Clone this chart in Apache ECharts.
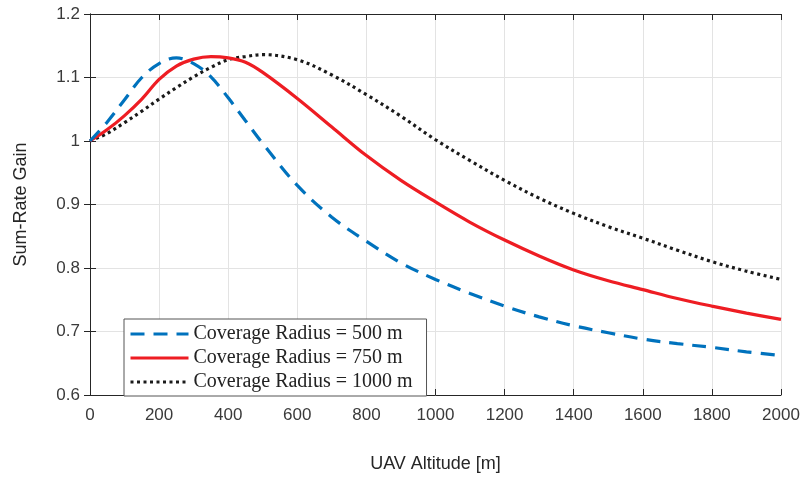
<!DOCTYPE html>
<html>
<head>
<meta charset="utf-8">
<script src="https://cdn.jsdelivr.net/npm/echarts@6/dist/echarts.min.js"></script>
<style>html,body{margin:0;padding:0;background:#fff}#c{width:804px;height:478px}</style>
</head>
<body>
<div id="c"></div>
<script>
const altitude = [0,50,100,150,200,250,300,350,400,450,500,600,700,800,900,1000,1100,1200,1300,1400,1500,1600,1700,1800,1900,2000];
const gain500  = [1.000,1.030,1.065,1.100,1.122,1.131,1.122,1.101,1.068,1.032,0.996,0.930,0.880,0.842,0.808,0.782,0.760,0.740,0.723,0.709,0.698,0.688,0.681,0.675,0.668,0.662];
const gain750  = [1.000,1.018,1.040,1.066,1.097,1.118,1.129,1.133,1.131,1.124,1.108,1.067,1.022,0.977,0.938,0.904,0.872,0.844,0.819,0.797,0.780,0.766,0.752,0.740,0.729,0.719];
const gain1000 = [1.000,1.012,1.029,1.047,1.066,1.084,1.101,1.116,1.128,1.133,1.136,1.128,1.104,1.073,1.039,1.002,0.969,0.938,0.910,0.886,0.865,0.847,0.828,0.810,0.795,0.782];
const seriesNames = ['Coverage Radius = 500 m','Coverage Radius = 750 m','Coverage Radius = 1000 m'];
const xName = 'UAV Altitude [m]';
const yName = 'Sum-Rate Gain';

const pairs = arr => altitude.map((x,i)=>[x,arr[i]]);
const axisColor = '#262626';
const labelFont = {color:'#3a3a3a', fontSize:17, fontFamily:'Liberation Sans, Arial, sans-serif'};

const chart = echarts.init(document.getElementById('c'), null, {renderer:'canvas'});
chart.setOption({
  animation:false,
  backgroundColor:'#fff',
  grid:{left:90, right:23, top:14, bottom:81, containLabel:false},
  legend:{
    orient:'vertical', left:124, top:319,
    backgroundColor:'#fff', borderColor:'#555', borderWidth:1,
    padding:[5,14,4,5], itemGap:4, itemWidth:58, itemHeight:20,
    itemStyle:{opacity:0},
    lineStyle:{width:3},
    textStyle:{fontFamily:'Liberation Serif, Times New Roman, serif', fontSize:20, color:'#222'},
    data:seriesNames
  },
  xAxis:[{
    type:'value', min:0, max:2000, interval:200,
    name:xName, nameLocation:'middle', nameGap:60,
    nameTextStyle:{color:'#262626', fontSize:18, fontFamily:'Liberation Sans, Arial, sans-serif'},
    axisLine:{show:true, lineStyle:{color:axisColor}},
    axisTick:{show:true, inside:true, length:6, lineStyle:{color:axisColor}},
    axisLabel:Object.assign({margin:12, formatter:v=>String(v)}, labelFont),
    splitLine:{show:true, lineStyle:{color:'#e3e3e3'}}
  },{
    type:'value', min:0, max:2000, interval:200, position:'top',
    axisLine:{show:true, lineStyle:{color:axisColor}},
    axisTick:{show:true, inside:true, length:6, lineStyle:{color:axisColor}},
    axisLabel:{show:false}, splitLine:{show:false}
  }],
  yAxis:[{
    type:'value', min:0.6, max:1.2, interval:0.1,
    name:yName, nameLocation:'middle', nameGap:60,
    nameTextStyle:{color:'#262626', fontSize:18, fontFamily:'Liberation Sans, Arial, sans-serif'},
    axisLine:{show:true, lineStyle:{color:axisColor}},
    axisTick:{show:true, inside:true, length:6, lineStyle:{color:axisColor}},
    axisLabel:Object.assign({margin:10, formatter:v=>String(+v.toFixed(1))}, labelFont),
    splitLine:{show:true, lineStyle:{color:'#e3e3e3'}}
  },{
    type:'value', min:0.6, max:1.2, interval:0.1, position:'right',
    axisLine:{show:true, lineStyle:{color:axisColor}},
    axisTick:{show:true, inside:true, length:6, lineStyle:{color:axisColor}},
    axisLabel:{show:false}, splitLine:{show:false}
  }],
  series:[
    {name:seriesNames[0], type:'line', data:pairs(gain500), smooth:0.35, showSymbol:false, symbol:'none',
     lineStyle:{color:'#0072BD', width:3.2, type:[14,9]}, itemStyle:{color:'#0072BD'}, z:3},
    {name:seriesNames[1], type:'line', data:pairs(gain750), smooth:0.35, showSymbol:false, symbol:'none',
     lineStyle:{color:'#ee1d23', width:3.2, type:'solid'}, itemStyle:{color:'#ee1d23'}, z:2},
    {name:seriesNames[2], type:'line', data:pairs(gain1000), smooth:0.35, showSymbol:false, symbol:'none',
     lineStyle:{color:'#1a1a1a', width:3.2, type:[3,3.5]}, itemStyle:{color:'#1a1a1a'}, z:1}
  ]
});
</script>
</body>
</html>
